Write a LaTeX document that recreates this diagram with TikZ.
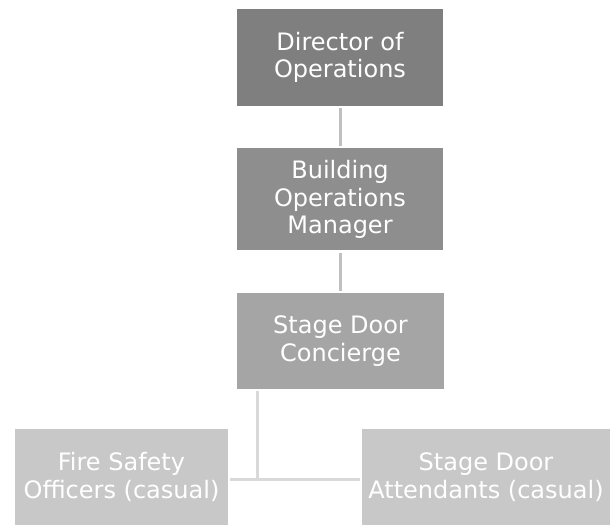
\documentclass[tikz,border=0pt]{standalone}
\usepackage{fontspec}
\setmainfont{DejaVu Sans}
\usepackage{xcolor}
\usetikzlibrary{positioning}

\definecolor{levelone}{HTML}{7F7F7F}
\definecolor{leveltwo}{HTML}{8E8E8E}
\definecolor{levelthree}{HTML}{A5A5A5}
\definecolor{levelfour}{HTML}{C8C8C8}
\definecolor{linkdark}{HTML}{C0C0C0}
\definecolor{linklight}{HTML}{D9D9D9}

\begin{document}
\begin{tikzpicture}[x=1pt,y=1pt,node distance=42pt,
            role node/.style={rectangle,text=white,align=center,inner sep=0pt,
              font=\fontsize{24}{27.5}\selectfont},
            link/.style={draw=linkdark,line width=3pt,shorten >=2pt,shorten <=2pt}]

        \useasboundingbox (0,0) rectangle (610,-525);

        \node[role node,fill=levelone,minimum width=206pt,minimum height=97pt] (director) at (340,-57.5) {Director of\\Operations};
        \node[role node,fill=leveltwo,minimum width=206pt,minimum height=102pt] (manager) [below=of director] {Building\\Operations\\Manager};
        \node[role node,fill=levelthree,minimum width=207pt,minimum height=96pt] (concierge) at (340.5,-341) {Stage Door\\Concierge};
        \node[role node,fill=levelfour,minimum width=213pt,minimum height=96pt] (fire) at (121.5,-477) {Fire Safety\\Officers (casual)};
        \node[role node,fill=levelfour,minimum width=248pt,minimum height=96pt] (attendants) at (486,-477) {Stage Door\\Attendants (casual)};

        \coordinate (split) at (257,-479);

        \path[link]
        (director) edge (manager)
        (manager) edge (concierge.north -| manager);

        \draw[link,draw=linklight,shorten >=0pt] (concierge.south -| split) -- (split);
        \draw[link,draw=linklight] (fire.east |- split) -- (attendants.west |- split);

    \end{tikzpicture}
\end{document}
